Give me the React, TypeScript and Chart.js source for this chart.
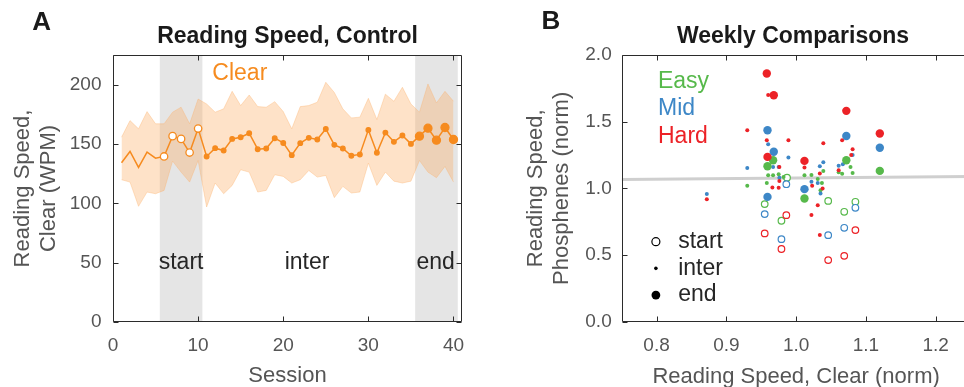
import React, { useEffect, useRef } from 'react';
import { Chart, registerables } from 'chart.js';

Chart.register(...registerables);

const FONT = "'Liberation Sans', Arial, Helvetica, sans-serif";
Chart.defaults.font.family = FONT;

// ---------- Panel A data ----------
const sessions = [1, 2, 3, 4, 5, 6, 7, 8, 9, 10, 11, 12, 13, 14, 15, 16, 17, 18, 19, 20, 21, 22, 23, 24, 25, 26, 27, 28, 29, 30, 31, 32, 33, 34, 35, 36, 37, 38, 39, 40];
const meanWPM = [134.2, 143.7, 130.3, 143.1, 138.1, 139.5, 156.6, 154.3, 142.8, 163.0, 139.5, 146.5, 144.5, 154.3, 155.7, 159.1, 145.6, 146.2, 154.9, 150.9, 140.6, 150.7, 155.2, 153.8, 162.7, 149.3, 146.2, 140.1, 141.2, 161.9, 142.6, 159.6, 151.8, 157.1, 150.1, 156.6, 163.3, 153.2, 163.9, 153.8];
const upperWPM = [155.7, 169.7, 162.8, 177.3, 167.0, 167.0, 176.8, 181.0, 167.0, 187.9, 183.7, 176.8, 179.6, 194.4, 182.4, 191.3, 181.5, 181.0, 185.7, 177.3, 162.8, 181.5, 182.4, 185.2, 202.0, 193.4, 179.6, 172.0, 172.6, 188.5, 170.6, 192.0, 186.0, 197.8, 183.7, 176.8, 200.6, 184.6, 194.4, 186.0];
const lowerWPM = [119.9, 117.9, 97.5, 109.5, 108.1, 110.9, 135.6, 126.3, 117.9, 136.1, 96.9, 117.1, 108.1, 115.1, 128.3, 126.3, 109.5, 110.9, 124.1, 122.7, 117.1, 119.9, 127.7, 122.1, 123.5, 104.8, 114.3, 108.7, 109.5, 133.9, 115.1, 126.3, 118.7, 117.1, 118.7, 136.1, 126.3, 121.6, 131.1, 117.9];
const startSessions = [6, 10];
const endSessions = [36, 40];
const shadedRanges = [[5.5, 10.5], [35.5, 40.5]];
const xTicksA = [0, 10, 20, 30, 40];
const yTicksA = [0, 50, 100, 150, 200];
const phaseLabelsA = ['start', 'inter', 'end'];

// ---------- Panel B data ----------
const xTicksB = [0.8, 0.9, 1.0, 1.1, 1.2];
const yTicksB = [0.0, 0.5, 1.0, 1.5, 2.0];
const easyStart = [[0.955, 0.882], [0.979, 0.757], [0.987, 1.08], [1.046, 0.906], [1.069, 0.824], [1.085, 0.899]];
const midStart = [[0.955, 0.807], [0.979, 0.619], [0.986, 1.031], [1.046, 0.649], [1.069, 0.704], [1.085, 0.854]];
const hardStart = [[0.955, 0.662], [0.979, 0.545], [0.986, 0.799], [1.046, 0.462], [1.069, 0.494], [1.085, 0.687]];
const easyInter = [[0.930, 1.019], [0.958, 1.04], [0.96, 1.099], [0.967, 1.099], [0.975, 1.105], [0.982, 1.085], [1.012, 1.099], [1.022, 1.10], [1.031, 1.07], [1.037, 1.04], [1.039, 1.13], [1.035, 0.985], [1.061, 1.12], [1.066, 1.11], [1.078, 1.16], [1.081, 1.115]];
const midInter = [[0.872, 0.957], [0.930, 1.153], [0.96, 1.33], [0.989, 1.231], [0.96, 1.16], [0.967, 1.16], [0.975, 1.16], [0.976, 1.08], [1.039, 1.196], [1.034, 1.166], [1.022, 1.05], [1.031, 1.04], [1.035, 0.962], [1.067, 1.18], [1.061, 1.17], [1.081, 1.25]];
const hardInter = [[0.872, 0.919], [0.930, 1.436], [0.958, 1.361], [0.989, 1.361], [0.96, 1.70], [0.976, 1.16], [0.976, 1.056], [0.966, 1.006], [0.975, 1.004], [1.012, 1.156], [1.039, 1.338], [1.034, 1.112], [1.023, 1.02], [1.038, 0.998], [1.022, 0.80], [1.031, 0.874], [1.034, 0.65], [1.066, 1.361], [1.081, 1.294], [1.079, 1.25], [1.074, 1.22], [1.061, 1.135]];
const easyEnd = [[0.967, 1.211], [0.959, 1.166], [1.012, 0.924], [1.072, 1.211], [1.120, 1.131]];
const midEnd = [[0.959, 1.436], [0.968, 1.274], [0.959, 0.936], [1.012, 0.994], [1.072, 1.393], [1.120, 1.304]];
const hardEnd = [[0.958, 1.861], [0.968, 1.698], [0.959, 1.236], [1.012, 1.206], [1.072, 1.581], [1.120, 1.411]];
const fitLine = [[0.75, 1.067], [1.25, 1.088]];
const difficultyLabels = ['Easy', 'Mid', 'Hard'];
const phaseLabelsB = ['start', 'inter', 'end'];

// ---------- styles ----------
const ORANGE = '#F68B1F';
const BAND_FILL = 'rgba(252, 176, 102, 0.36)';
const BAND_EDGE = 'rgba(252, 176, 102, 0.35)';
const GRAY_BAND = '#E5E5E5';
const GREEN = '#57B94B';
const BLUE = '#3D87C7';
const RED = '#EC2227';
const AXIS = '#2b2b2b';
const TICK_TXT = '#555555';
const TXT = '#262626';

function drawFrame(chart: any, xt: number[], yt: number[], len = 5) {
  const { ctx, chartArea, scales } = chart;
  const { left, right, top, bottom } = chartArea;
  const x = scales.x, y = scales.y;
  ctx.save();
  ctx.strokeStyle = AXIS;
  ctx.lineWidth = 1;
  const L = Math.round(left) + 0.5, R = Math.round(right) - 0.5, T = Math.round(top) + 0.5, B = Math.round(bottom) - 0.5;
  ctx.beginPath();
  ctx.rect(L, T, R - L, B - T);
  xt.forEach((v) => {
    const p = Math.round(x.getPixelForValue(v)) + 0.5;
    ctx.moveTo(p, B); ctx.lineTo(p, B - len);
    ctx.moveTo(p, T); ctx.lineTo(p, T + len);
  });
  yt.forEach((v) => {
    const p = Math.round(y.getPixelForValue(v)) + 0.5;
    ctx.moveTo(L, p); ctx.lineTo(L + len, p);
    ctx.moveTo(R, p); ctx.lineTo(R - len, p);
  });
  ctx.stroke();
  ctx.restore();
}

function text(ctx: any, s: string, x: number, y: number, font: string, color: string, align: any = 'center') {
  ctx.save();
  ctx.font = font;
  ctx.fillStyle = color;
  ctx.textAlign = align;
  ctx.textBaseline = 'middle';
  ctx.fillText(s, x, y);
  ctx.restore();
}

const pluginA = {
  id: 'panelA',
  beforeDatasetsDraw(chart: any) {
    const { ctx, chartArea, scales } = chart;
    ctx.save();
    ctx.fillStyle = GRAY_BAND;
    shadedRanges.forEach(([a, b]) => {
      const x0 = scales.x.getPixelForValue(a), x1 = scales.x.getPixelForValue(b);
      ctx.fillRect(x0, chartArea.top, x1 - x0, chartArea.bottom - chartArea.top);
    });
    ctx.restore();
  },
  afterDatasetsDraw(chart: any) {
    const { ctx, chartArea, scales } = chart;
    const x = scales.x, y = scales.y;
    drawFrame(chart, xTicksA, yTicksA);
    const f = `23px ${FONT}`;
    text(ctx, 'Clear', x.getPixelForValue(14.9), y.getPixelForValue(209), f, ORANGE);
    text(ctx, phaseLabelsA[0], x.getPixelForValue(8), y.getPixelForValue(50), f, TXT);
    text(ctx, phaseLabelsA[1], x.getPixelForValue(22.8), y.getPixelForValue(50), f, TXT);
    text(ctx, phaseLabelsA[2], x.getPixelForValue(37.9), y.getPixelForValue(50), f, TXT);
    text(ctx, 'Reading Speed, Control', (chartArea.left + chartArea.right) / 2, 37, `bold 23px ${FONT}`, '#1a1a1a');
    text(ctx, 'A', 41.7, 22.5, `bold 26px ${FONT}`, '#1a1a1a');
  },
};

const pluginB = {
  id: 'panelB',
  afterDatasetsDraw(chart: any) {
    const { ctx, scales } = chart;
    const x = scales.x, y = scales.y;
    drawFrame(chart, xTicksB, yTicksB);
    const f = `23px ${FONT}`;
    const cols = [GREEN, BLUE, RED];
    const ys = [1.8, 1.6, 1.39];
    difficultyLabels.forEach((s, i) => text(ctx, s, x.getPixelForValue(0.802), y.getPixelForValue(ys[i]), f, cols[i], 'left'));
    const my = [0.6, 0.4, 0.2];
    const mx = x.getPixelForValue(0.799);
    ctx.save();
    ctx.strokeStyle = '#000'; ctx.fillStyle = '#000'; ctx.lineWidth = 1.2;
    ctx.beginPath(); ctx.arc(mx, y.getPixelForValue(my[0]), 4, 0, Math.PI * 2); ctx.stroke();
    ctx.beginPath(); ctx.arc(mx, y.getPixelForValue(my[1]), 1.8, 0, Math.PI * 2); ctx.fill();
    ctx.beginPath(); ctx.arc(mx, y.getPixelForValue(my[2]), 4.4, 0, Math.PI * 2); ctx.fill();
    ctx.restore();
    phaseLabelsB.forEach((s, i) => text(ctx, s, x.getPixelForValue(0.831), y.getPixelForValue(my[i]), f, TXT, 'left'));
    text(ctx, 'Weekly Comparisons', 313, 37, `bold 23px ${FONT}`, '#1a1a1a');
    text(ctx, 'B', 71, 21.7, `bold 26px ${FONT}`, '#1a1a1a');
  },
};

const toPts = (arr: number[][]) => arr.map(([a, b]) => ({ x: a, y: b }));

export default function App() {
  const refA = useRef<HTMLCanvasElement>(null);
  const refB = useRef<HTMLCanvasElement>(null);

  useEffect(() => {
    const radii = sessions.map((s) => (s < startSessions[0] ? 0 : s <= startSessions[1] ? 3.7 : s < endSessions[0] ? 2.3 : 4));
    const fills = sessions.map((s) => (s >= startSessions[0] && s <= startSessions[1] ? '#ffffff' : ORANGE));
    const tickFont = { size: 19, lineHeight: 1.2 };
    const chartA = new Chart(refA.current as HTMLCanvasElement, {
      type: 'line',
      data: {
        datasets: [
          { label: 'upper', data: sessions.map((s, i) => ({ x: s, y: upperWPM[i] })), borderColor: BAND_EDGE, borderWidth: 1, pointRadius: 0, fill: '+1', backgroundColor: BAND_FILL, order: 2 },
          { label: 'lower', data: sessions.map((s, i) => ({ x: s, y: lowerWPM[i] })), borderColor: BAND_EDGE, borderWidth: 1, pointRadius: 0, fill: false, order: 2 },
          { label: 'Clear', data: sessions.map((s, i) => ({ x: s, y: meanWPM[i] })), borderColor: ORANGE, borderWidth: 1.5, pointRadius: radii, pointBackgroundColor: fills, pointBorderColor: ORANGE, pointBorderWidth: 1.3, fill: false, order: 1 },
        ],
      } as any,
      options: {
        responsive: false,
        animation: false,
        layout: { padding: { left: 0, right: 18, top: 55, bottom: 0 } },
        plugins: { legend: { display: false }, tooltip: { enabled: false } },
        scales: {
          x: {
            type: 'linear', min: 0, max: 41,
            afterBuildTicks: (s: any) => { s.ticks = xTicksA.map((v) => ({ value: v })); },
            afterFit: (s: any) => { s.height = 65; },
            grid: { display: false, drawTicks: false }, border: { display: false },
            ticks: { padding: 12, color: TICK_TXT, font: tickFont, autoSkip: false, maxRotation: 0 },
            title: { display: true, text: 'Session', color: TICK_TXT, font: { size: 22, lineHeight: 1 }, padding: { top: 0, bottom: 0 } },
          },
          y: {
            min: 0, max: 225,
            afterBuildTicks: (s: any) => { s.ticks = yTicksA.map((v) => ({ value: v })); },
            afterFit: (s: any) => { s.width = 113; },
            grid: { display: false, drawTicks: false }, border: { display: false },
            ticks: { padding: 11.5, color: TICK_TXT, font: tickFont },
            title: { display: true, text: ['Reading Speed,', 'Clear (WPM)'], color: TICK_TXT, font: { size: 22, lineHeight: 1.15 }, padding: { top: 10.5, bottom: 0 } },
          },
        },
      } as any,
      plugins: [pluginA],
    });

    const grp = (data: number[][], color: string, kind: string, order: number) => ({
      data: toPts(data),
      showLine: false,
      pointRadius: kind === 'start' ? 3.3 : kind === 'inter' ? 2 : 4.2,
      pointBorderWidth: kind === 'start' ? 1.2 : 0,
      pointBorderColor: color,
      pointBackgroundColor: kind === 'start' ? '#ffffff' : color,
      order,
    });

    const chartB = new Chart(refB.current as HTMLCanvasElement, {
      type: 'scatter',
      data: {
        datasets: [
          grp(hardEnd, RED, 'end', 1), grp(midEnd, BLUE, 'end', 2), grp(easyEnd, GREEN, 'end', 3),
          grp(hardInter, RED, 'inter', 4), grp(midInter, BLUE, 'inter', 5), grp(easyInter, GREEN, 'inter', 6),
          grp(hardStart, RED, 'start', 7), grp(midStart, BLUE, 'start', 8), grp(easyStart, GREEN, 'start', 9),
          { data: toPts(fitLine), showLine: true, borderColor: '#CFCFCF', borderWidth: 3, pointRadius: 0, order: 20 },
        ],
      } as any,
      options: {
        responsive: false,
        animation: false,
        layout: { padding: { left: 0, right: 9.5, top: 55, bottom: 0 } },
        plugins: { legend: { display: false }, tooltip: { enabled: false } },
        scales: {
          x: {
            type: 'linear', min: 0.75, max: 1.25,
            afterBuildTicks: (s: any) => { s.ticks = xTicksB.map((v) => ({ value: v })); },
            afterFit: (s: any) => { s.height = 73.3; },
            grid: { display: false, drawTicks: false }, border: { display: false },
            ticks: { padding: 12.9, color: TICK_TXT, font: tickFont, autoSkip: false, maxRotation: 0, callback: (v: any) => Number(v).toFixed(1) },
            title: { display: true, text: 'Reading Speed, Clear (norm)', color: TICK_TXT, font: { size: 22, lineHeight: 1 }, padding: { top: 0, bottom: 7 } },
          },
          y: {
            type: 'linear', min: 0, max: 2,
            afterBuildTicks: (s: any) => { s.ticks = yTicksB.map((v) => ({ value: v })); },
            afterFit: (s: any) => { s.width = 141.7; },
            grid: { display: false, drawTicks: false }, border: { display: false },
            ticks: { padding: 10, color: TICK_TXT, font: tickFont, callback: (v: any) => Number(v).toFixed(1) },
            title: { display: true, text: ['Reading Speed,', 'Phosphenes (norm)'], color: TICK_TXT, font: { size: 22, lineHeight: 1.2 }, padding: { top: 42.5, bottom: 0 } },
          },
        },
      } as any,
      plugins: [pluginB],
    });

    return () => {
      chartA.destroy();
      chartB.destroy();
    };
  }, []);

  return (
    <div style={{ position: 'fixed', left: 0, top: 0, width: 964, height: 387, overflow: 'hidden', background: '#ffffff' }}>
      <canvas ref={refA} width={480} height={387} style={{ position: 'absolute', left: 0, top: 0, display: 'block' }} />
      <canvas ref={refB} width={500} height={395} style={{ position: 'absolute', left: 480, top: 0, display: 'block' }} />
    </div>
  );
}
